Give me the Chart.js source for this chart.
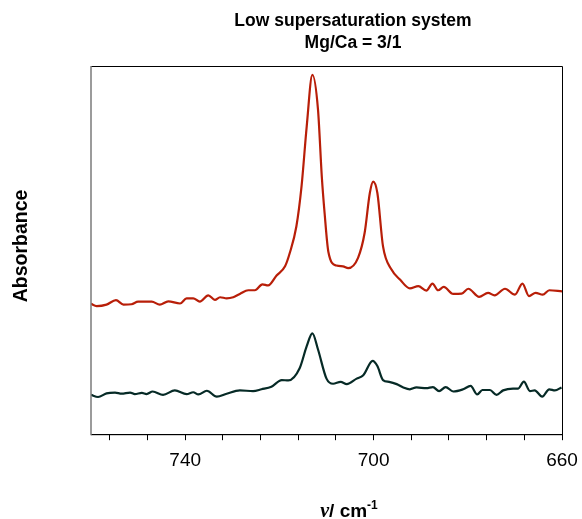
<!DOCTYPE html>
<html>
<head>
<meta charset="utf-8">
<script src="https://cdn.jsdelivr.net/npm/chart.js@4"></script>
<style>
html,body{margin:0;padding:0;background:#fff;}
#wrap{width:582px;height:519px;position:relative;}
</style>
</head>
<body>
<div id="wrap"><canvas id="c" width="582" height="519"></canvas></div>
<script>
// Titles
const titleLines = ["Low supersaturation system", "Mg/Ca = 3/1"];
const yTitle = "Absorbance";

// x ticks (cm-1), labelled ticks
const tickValues = [756, 748, 740, 732, 724, 716, 708, 700, 692, 684, 676, 668, 660];
const labelledTicks = [740, 700, 660];

// Upper (red) spectrum
const redWn = [760.0, 758.8, 756.7, 754.7, 753.1, 751.4, 750.0, 747.1, 745.4, 743.6, 741.1, 739.7, 738.3, 736.9, 735.1, 733.7, 732.6, 731.2, 729.8, 728.4, 726.6, 725.2, 723.6, 722.4, 720.6, 718.8, 717.8, 716.4, 715.3, 714.2, 713.0, 711.8, 711.0, 710.4, 709.6, 707.9, 706.5, 705.4, 703.3, 701.9, 700.8, 700.1, 699.2, 698.0, 696.2, 694.4, 692.3, 690.5, 688.8, 687.5, 686.3, 685.1, 683.1, 681.3, 679.9, 677.6, 675.7, 674.3, 672.1, 670.0, 668.4, 667.0, 665.6, 664.1, 662.7, 660.0];
const redAbs = [0.354, 0.348, 0.352, 0.364, 0.352, 0.353, 0.360, 0.360, 0.352, 0.361, 0.355, 0.369, 0.369, 0.360, 0.377, 0.365, 0.372, 0.369, 0.372, 0.381, 0.391, 0.391, 0.407, 0.404, 0.431, 0.456, 0.492, 0.564, 0.673, 0.836, 0.976, 0.881, 0.700, 0.600, 0.495, 0.458, 0.456, 0.451, 0.479, 0.547, 0.655, 0.686, 0.655, 0.510, 0.447, 0.420, 0.396, 0.402, 0.390, 0.409, 0.391, 0.400, 0.381, 0.382, 0.395, 0.373, 0.384, 0.377, 0.395, 0.379, 0.409, 0.375, 0.384, 0.379, 0.391, 0.388];

// Lower (dark) spectrum
const darkWn = [760.0, 758.5, 756.7, 754.9, 753.5, 751.7, 750.7, 749.2, 748.2, 746.9, 744.7, 742.2, 739.7, 738.3, 737.2, 735.4, 733.3, 731.2, 728.4, 725.6, 723.8, 721.7, 719.5, 718.1, 715.7, 714.2, 713.0, 711.8, 710.0, 708.6, 707.0, 705.7, 703.6, 702.2, 700.2, 699.2, 698.0, 696.7, 695.1, 693.7, 692.3, 690.9, 688.8, 687.4, 686.1, 684.7, 683.1, 681.0, 679.4, 678.0, 676.9, 675.3, 673.9, 672.5, 670.4, 669.3, 668.1, 666.8, 665.8, 664.2, 662.7, 661.5, 660.1];
const darkAbs = [0.107, 0.101, 0.111, 0.113, 0.110, 0.113, 0.109, 0.112, 0.109, 0.116, 0.107, 0.119, 0.109, 0.114, 0.108, 0.118, 0.102, 0.110, 0.119, 0.117, 0.122, 0.129, 0.147, 0.146, 0.179, 0.239, 0.274, 0.230, 0.151, 0.137, 0.142, 0.136, 0.151, 0.160, 0.199, 0.185, 0.147, 0.142, 0.136, 0.127, 0.122, 0.127, 0.125, 0.128, 0.117, 0.128, 0.116, 0.122, 0.131, 0.108, 0.120, 0.120, 0.107, 0.119, 0.124, 0.124, 0.143, 0.117, 0.119, 0.102, 0.122, 0.119, 0.127];

const toPts = (xs, ys) => xs.map((x, i) => ({x: x, y: ys[i]}));

const decor = {
  id: 'decor',
  afterDraw(chart) {
    const ctx = chart.ctx;
    const a = chart.chartArea;
    ctx.save();
    // frame
    ctx.lineWidth = 1;
    ctx.strokeStyle = '#000';
    ctx.beginPath();
    ctx.moveTo(a.left, a.top + 0.5);
    ctx.lineTo(a.right + 0.5, a.top + 0.5);
    ctx.lineTo(a.right + 0.5, a.bottom + 0.5);
    ctx.lineTo(a.left, a.bottom + 0.5);
    ctx.stroke();
    ctx.strokeStyle = '#7a7a7a';
    ctx.lineWidth = 1.5;
    ctx.beginPath();
    ctx.moveTo(a.left, a.top);
    ctx.lineTo(a.left, a.bottom + 1);
    ctx.stroke();

    ctx.fillStyle = '#000';
    ctx.textAlign = 'center';
    ctx.textBaseline = 'middle';
    // main title
    ctx.font = 'bold 17.5px "Liberation Sans", Arial, sans-serif';
    ctx.fillText(titleLines[0], 353, 21);
    ctx.fillText(titleLines[1], 353, 43);

    // y title
    ctx.save();
    ctx.translate(22, 246);
    ctx.rotate(-Math.PI / 2);
    ctx.font = 'bold 19.5px "Liberation Sans", Arial, sans-serif';
    ctx.fillText(yTitle, 0, 0);
    ctx.restore();

    // x title: ν / cm-1
    const fNu = 'italic bold 20px "Liberation Serif", "Times New Roman", serif';
    const fMain = 'bold 19px "Liberation Sans", Arial, sans-serif';
    const fSup = 'bold 12px "Liberation Sans", Arial, sans-serif';
    const s1 = 'ν', s2 = '/ cm', s3 = '-1';
    ctx.font = fNu; const w1 = ctx.measureText(s1).width;
    ctx.font = fMain; const w2 = ctx.measureText(s2).width;
    ctx.font = fSup; const w3 = ctx.measureText(s3).width;
    let x = 349 - (w1 + w2 + w3) / 2;
    const yb = 517;
    ctx.textAlign = 'left';
    ctx.textBaseline = 'alphabetic';
    ctx.font = fNu; ctx.fillText(s1, x, yb); x += w1;
    ctx.font = fMain; ctx.fillText(s2, x, yb); x += w2;
    ctx.font = fSup; ctx.fillText(s3, x, yb - 8);
    ctx.restore();
  }
};

new Chart(document.getElementById('c'), {
  type: 'line',
  data: {
    datasets: [
      {
        label: 'upper',
        data: toPts(redWn, redAbs),
        borderColor: '#b81e08',
        borderWidth: 2.2,
        pointRadius: 0,
        fill: false,
        cubicInterpolationMode: 'monotone'
      },
      {
        label: 'lower',
        data: toPts(darkWn, darkAbs),
        borderColor: '#062a26',
        borderWidth: 2.2,
        pointRadius: 0,
        fill: false,
        cubicInterpolationMode: 'monotone'
      }
    ]
  },
  options: {
    responsive: false,
    animation: false,
    devicePixelRatio: 1,
    layout: { padding: { left: 91, right: 20, top: 66, bottom: 38 } },
    plugins: { legend: { display: false }, tooltip: { enabled: false }, title: { display: false } },
    scales: {
      x: {
        type: 'linear',
        reverse: true,
        min: 660,
        max: 760,
        afterBuildTicks: (scale) => { scale.ticks = tickValues.map(v => ({value: v})); },
        afterFit: (scale) => { scale.paddingLeft = 0; scale.paddingRight = 0; },
        grid: { display: true, drawOnChartArea: false, drawTicks: true, tickLength: 6, tickColor: '#000', lineWidth: 1 },
        border: { display: true, color: '#000', width: 1 },
        ticks: {
          autoSkip: false,
          maxRotation: 0,
          padding: 9,
          color: '#000',
          font: { family: '"Liberation Sans", Arial, sans-serif', size: 19 },
          callback: (v) => labelledTicks.includes(v) ? String(v) : ''
        }
      },
      y: {
        min: 0,
        max: 1,
        grid: { display: false, drawTicks: false },
        border: { display: false },
        ticks: { display: false }
      }
    }
  },
  plugins: [decor]
});
</script>
</body>
</html>
